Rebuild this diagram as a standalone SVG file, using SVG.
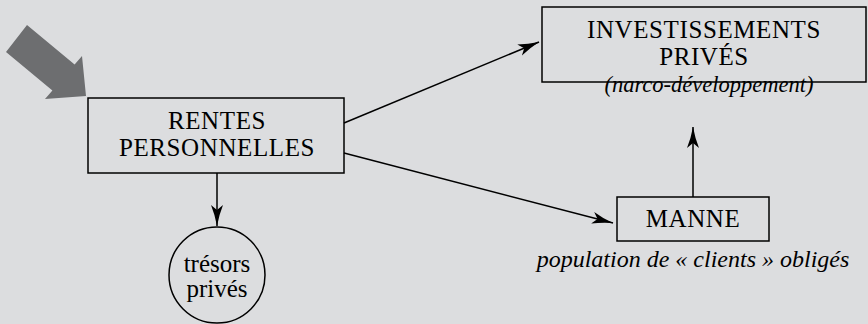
<svg xmlns="http://www.w3.org/2000/svg" width="868" height="324" viewBox="0 0 868 324">
<style>
.box{fill:none;stroke:#000;stroke-width:1.5}
.c{stroke:#000;stroke-width:1.5;fill:none;marker-end:url(#ah)}
</style>
<defs>
<marker id="ah" markerUnits="userSpaceOnUse" markerWidth="22" markerHeight="14" refX="21" refY="7" orient="auto">
<path d="M0,1 Q10,5 21,7 Q10,9 0,13 L5,7 Z" fill="#000"/>
</marker>
</defs>
<rect width="868" height="324" fill="#dcdddf"/>
<polygon id="big-arrow" points="27,25 74.6,64.6 82,56 86,96 45,99 52.4,90.4 6,52" fill="#6d6e70"/>
<g id="connectors">
<line class="c" x1="344" y1="123" x2="539" y2="42"/>
<line class="c" x1="344" y1="153" x2="613" y2="223"/>
<line class="c" x1="217" y1="173" x2="217" y2="226"/>
<line class="c" x1="693" y1="197" x2="693" y2="127"/>
</g>
<g id="rentes">
<rect class="box" x="88" y="98" width="256" height="75"/>
<text x="217" y="129" font-family="Liberation Serif, serif" font-size="25" letter-spacing="0.6" text-anchor="middle">RENTES</text>
<text x="217" y="156" font-family="Liberation Serif, serif" font-size="25" letter-spacing="0.6" text-anchor="middle">PERSONNELLES</text>
</g>
<g id="investissements">
<rect class="box" x="542" y="7" width="324" height="75"/>
<text x="704" y="38" font-family="Liberation Serif, serif" font-size="25" letter-spacing="0.6" text-anchor="middle">INVESTISSEMENTS</text>
<text x="704" y="65" font-family="Liberation Serif, serif" font-size="25" letter-spacing="0.6" text-anchor="middle">PRIVÉS</text>
<text x="709" y="92" font-family="Liberation Serif, serif" font-size="22.5" font-style="italic" text-anchor="middle">(narco-développement)</text>
</g>
<g id="manne">
<rect class="box" x="617" y="197" width="152" height="44"/>
<text x="693" y="227" font-family="Liberation Serif, serif" font-size="25" letter-spacing="0.6" text-anchor="middle">MANNE</text>
<text x="693" y="267" font-family="Liberation Serif, serif" font-size="24" font-style="italic" text-anchor="middle">population de « clients » obligés</text>
</g>
<g id="tresors">
<circle class="box" cx="217" cy="275" r="48"/>
<text x="217" y="272" font-family="Liberation Serif, serif" font-size="25" text-anchor="middle">trésors</text>
<text x="217" y="297" font-family="Liberation Serif, serif" font-size="25" text-anchor="middle">privés</text>
</g>
</svg>
